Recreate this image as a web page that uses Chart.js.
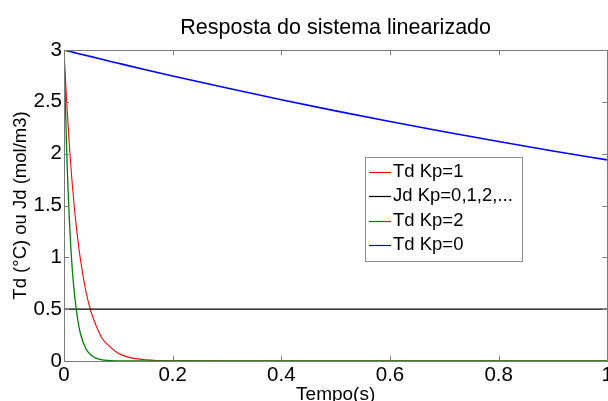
<!DOCTYPE html>
<html>
<head>
<meta charset="utf-8">
<script src="https://cdn.jsdelivr.net/npm/chart.js@4.4.0/dist/chart.umd.min.js"></script>
<style>
  html, body { margin: 0; padding: 0; background: #fff; overflow: hidden; }
  #wrap { position: absolute; left: 0; top: 0; width: 615px; height: 410px; }
</style>
</head>
<body>
<div id="wrap"><canvas id="c" width="615" height="410"></canvas></div>
<script>
// ---- data ----
const chartTitle = 'Resposta do sistema linearizado';
const xTitle = 'Tempo(s)';
const yTitle = 'Td (°C) ou Jd (mol/m3)';
const seriesLabels = ['Td Kp=1', 'Jd Kp=0,1,2,...', 'Td Kp=2', 'Td Kp=0'];
const time = [0, 0.005, 0.01, 0.015, 0.02, 0.025, 0.03, 0.04, 0.05, 0.06, 0.07, 0.08, 0.1, 0.12, 0.15, 0.2, 0.3, 0.4, 0.5, 0.6, 0.7, 0.8, 0.9, 1.0];
const tdKp1 = [3, 2.49, 2.07, 1.72, 1.43, 1.19, 0.99, 0.68, 0.47, 0.33, 0.22, 0.16, 0.074, 0.035, 0.012, 0.002, 0, 0, 0, 0, 0, 0, 0, 0];
const jdAll = [0.5, 0.5, 0.5, 0.5, 0.5, 0.5, 0.5, 0.5, 0.5, 0.5, 0.5, 0.5, 0.5, 0.5, 0.5, 0.5, 0.5, 0.5, 0.5, 0.5, 0.5, 0.5, 0.5, 0.5];
const tdKp2 = [3, 2.01, 1.35, 0.90, 0.61, 0.41, 0.27, 0.12, 0.055, 0.025, 0.011, 0.005, 0.001, 0, 0, 0, 0, 0, 0, 0, 0, 0, 0, 0];
const tdKp0 = [3, 2.994, 2.987, 2.980, 2.974, 2.967, 2.961, 2.948, 2.936, 2.923, 2.910, 2.897, 2.872, 2.847, 2.810, 2.750, 2.633, 2.520, 2.413, 2.310, 2.211, 2.117, 2.026, 1.940];
const xTicks = [0, 0.2, 0.4, 0.6, 0.8, 1];
const yTicks = [0, 0.5, 1, 1.5, 2, 2.5, 3];
const seriesColors = ['#ff0000', '#000000', '#008000', '#0000ff'];

const FONT = '"Liberation Sans", Arial, Helvetica, sans-serif';
const AXIS_COLOR = '#7a7a7a';

function pts(ys) { return time.map((t, i) => ({ x: t, y: ys[i] })); }

const allSeries = [tdKp1, jdAll, tdKp2, tdKp0];
const widths = [1.1, 1.1, 1.3, 1.6];
const orders = [4, 3, 2, 1];

const datasets = allSeries.map((s, i) => ({
  label: seriesLabels[i],
  data: pts(s),
  borderColor: seriesColors[i],
  backgroundColor: seriesColors[i],
  borderWidth: widths[i],
  pointRadius: 0,
  fill: false,
  cubicInterpolationMode: 'monotone',
  order: orders[i]
}));

// Title centred over the plot area
const titlePlugin = {
  id: 'areaTitle',
  afterDraw(chart) {
    const { ctx, chartArea: a } = chart;
    ctx.save();
    ctx.font = '21.5px ' + FONT;
    ctx.fillStyle = '#000';
    ctx.textAlign = 'center';
    ctx.textBaseline = 'alphabetic';
    ctx.fillText(chartTitle, (a.left + a.right) / 2, 33.5);
    ctx.restore();
  }
};

// Box frame + inward tick marks
const framePlugin = {
  id: 'frame',
  afterDatasetsDraw(chart) {
    const { ctx, chartArea: a, scales } = chart;
    ctx.save();
    ctx.strokeStyle = AXIS_COLOR;
    ctx.lineWidth = 1;
    ctx.strokeRect(Math.round(a.left) + 0.5, Math.round(a.top) + 0.5, Math.round(a.right - a.left), Math.round(a.bottom - a.top));
    const L = 5;
    ctx.beginPath();
    scales.x.ticks.forEach(t => {
      const x = Math.round(scales.x.getPixelForValue(t.value)) + 0.5;
      ctx.moveTo(x, a.bottom); ctx.lineTo(x, a.bottom - L);
      ctx.moveTo(x, a.top); ctx.lineTo(x, a.top + L);
    });
    scales.y.ticks.forEach(t => {
      const y = Math.round(scales.y.getPixelForValue(t.value)) + 0.5;
      ctx.moveTo(a.left, y); ctx.lineTo(a.left + L, y);
      ctx.moveTo(a.right, y); ctx.lineTo(a.right - L, y);
    });
    ctx.stroke();
    ctx.restore();
  }
};

// Legend box inside the plot (MATLAB style)
const legendPlugin = {
  id: 'innerLegend',
  afterDraw(chart) {
    const { ctx } = chart;
    const box = { x: 365, y: 157, w: 157, h: 104 };
    ctx.save();
    ctx.fillStyle = '#ffffff';
    ctx.fillRect(box.x, box.y, box.w, box.h);
    ctx.strokeStyle = '#8a8a8a';
    ctx.lineWidth = 1;
    ctx.strokeRect(box.x + 0.5, box.y + 0.5, box.w, box.h);
    ctx.font = '18.5px ' + FONT;
    ctx.textBaseline = 'middle';
    ctx.textAlign = 'left';
    const rowH = 24.3;
    seriesLabels.forEach((label, i) => {
      const cy = box.y + 15 + i * rowH;
      ctx.strokeStyle = seriesColors[i];
      ctx.lineWidth = 1.2;
      ctx.beginPath();
      ctx.moveTo(box.x + 4, Math.round(cy) + 0.5);
      ctx.lineTo(box.x + 26, Math.round(cy) + 0.5);
      ctx.stroke();
      ctx.fillStyle = '#000';
      ctx.fillText(label, box.x + 28, cy);
    });
    ctx.restore();
  }
};

new Chart(document.getElementById('c'), {
  type: 'line',
  data: { datasets },
  options: {
    responsive: false,
    animation: false,
    devicePixelRatio: 1,
    layout: { padding: { top: 50, left: 0, right: 0, bottom: 0 } },
    plugins: {
      legend: { display: false },
      tooltip: { enabled: false },
      title: { display: false }
    },
    scales: {
      x: {
        type: 'linear',
        min: 0, max: 1,
        afterBuildTicks: s => { s.ticks = xTicks.map(v => ({ value: v })); },
        afterFit: s => { s.height = 49; },
        grid: { display: false, drawTicks: false },
        border: { display: false },
        ticks: {
          color: '#000',
          padding: 2,
          maxRotation: 0,
          autoSkip: false,
          font: { family: FONT, size: 20.5 },
          callback: v => String(v)
        },
        title: {
          display: true,
          text: xTitle,
          color: '#000',
          font: { family: FONT, size: 19 },
          padding: { top: 0, bottom: 3.6 }
        }
      },
      y: {
        type: 'linear',
        min: 0, max: 3,
        afterBuildTicks: s => { s.ticks = yTicks.map(v => ({ value: v })); },
        afterFit: s => { s.width = 64; },
        grid: { display: false, drawTicks: false },
        border: { display: false },
        ticks: {
          color: '#000',
          padding: 2,
          autoSkip: false,
          font: { family: FONT, size: 20.5 },
          callback: v => String(v)
        },
        title: {
          display: true,
          text: yTitle,
          color: '#000',
          font: { family: FONT, size: 18.5 },
          padding: { top: 10, bottom: 0 }
        }
      }
    }
  },
  plugins: [framePlugin, legendPlugin, titlePlugin]
});
</script>
</body>
</html>
